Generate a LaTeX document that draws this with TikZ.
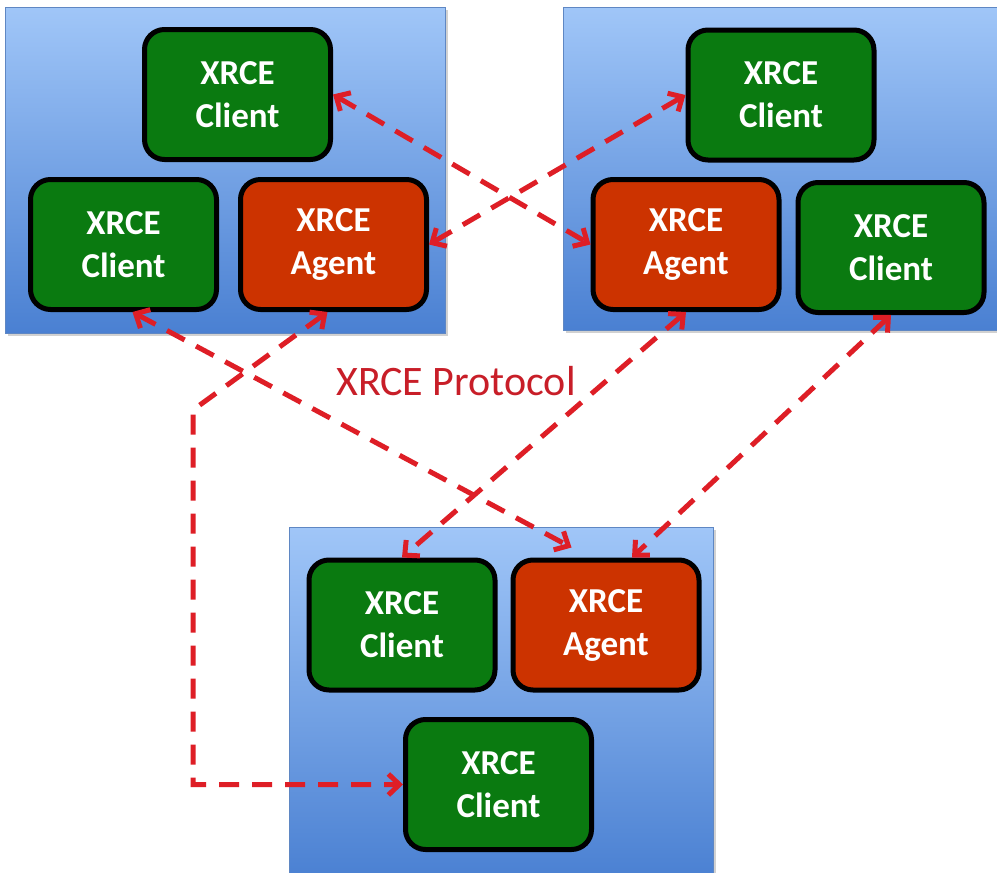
\documentclass[tikz,border=0pt]{standalone}
\usepackage{fontspec}
\setmainfont{Carlito}
\usetikzlibrary{arrows.meta,calc}
\definecolor{boxgreen}{RGB}{10,122,16}
\definecolor{agentred}{RGB}{204,51,0}
\definecolor{linered}{RGB}{222,30,38}
\definecolor{textred}{RGB}{200,30,40}
\definecolor{paneltop}{RGB}{160,198,248}
\definecolor{panelbot}{RGB}{74,128,210}
\definecolor{paneledge}{RGB}{95,135,195}
\begin{document}
\begin{tikzpicture}[x=1pt,y=-1pt,
 panel/.style={top color=paneltop,bottom color=panelbot,draw=paneledge,line width=0.8pt},
 pshadow/.style={fill=black,opacity=0.18},
 unit/.style={draw=black,line width=5pt,rounded corners=20pt,minimum width=186pt,minimum height=130pt,inner sep=0pt,font=\fontsize{35}{43}\selectfont\bfseries,text=white,align=center},
 client/.style={unit,fill=boxgreen},
 agent/.style={unit,fill=agentred},
 link/.style={draw=linered,line width=5pt,dash pattern=on 20pt off 13pt},
 tips/.style={{Straight Barb[length=11pt,width=21pt]}-{Straight Barb[length=11pt,width=21pt]}}
]
\useasboundingbox (0,0) rectangle (997,873);
\clip (0,0) rectangle (997,873);
\fill[white] (0,0) rectangle (997,873);
% panels
\fill[pshadow] (8,10) rectangle (448,336);
\fill[pshadow] (566,10) rectangle (1008,333);
\fill[pshadow] (292,530) rectangle (716,883);
\path[panel] (5,7) rectangle (445,333);
\path[panel] (563,7) rectangle (1005,330);
\path[panel] (289,527) rectangle (713,880);
% nodes
\node[client] (p1t) at (237.5,94.5) {XRCE\\Client};
\node[client] (p1l) at (123.5,244.5) {XRCE\\Client};
\node[agent]  (p1a) at (333.5,244.5) {XRCE\\Agent};
\node[client] (p2t) at (781,95) {XRCE\\Client};
\node[agent]  (p2a) at (686,244.5) {XRCE\\Agent};
\node[client] (p2r) at (891,247.5) {XRCE\\Client};
\node[client] (p3l) at (402,625) {XRCE\\Client};
\node[agent]  (p3a) at (606,625) {XRCE\\Agent};
\node[client] (p3b) at (498.5,784.5) {XRCE\\Client};
% label
\node[text=textred,font=\fontsize{42}{50}\selectfont,inner sep=0pt] (proto) at (456,381) {XRCE Protocol};
% connectors
\coordinate (bend) at (193,410);
\draw[link,tips] (p1t.east) -- (p2a.west);
\draw[link,tips] (p1a.east) -- (p2t.west);
\draw[link,tips] ($(p1l.south)+(9,0)$) -- ($(p3a.north west)+(61,-10)$);
\draw[link,tips] ($(p1a.south)+(-6,0)$) -- (bend) -- (bend |- p3b.west) -- (p3b.west);
\draw[link,tips] (p2a.south) -- (p3l.north);
\draw[link,tips] (p2r.south) -- ($(p3a.north)+(26,0)$);
\end{tikzpicture}
\end{document}
